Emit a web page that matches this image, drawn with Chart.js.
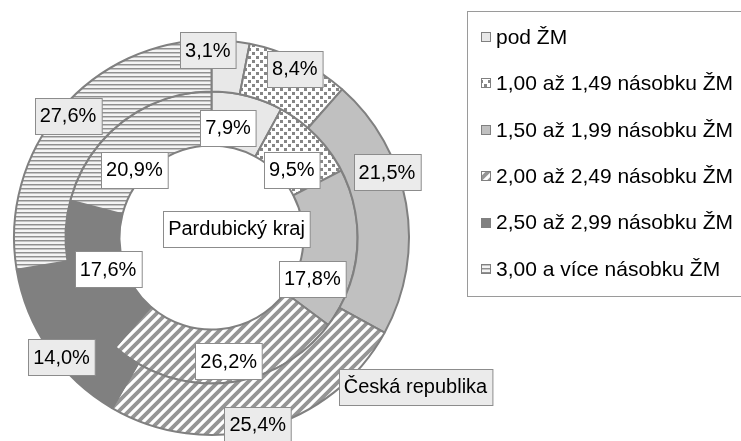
<!DOCTYPE html>
<html>
<head>
<meta charset="utf-8">
<script src="https://cdn.jsdelivr.net/npm/chart.js@4/dist/chart.umd.min.js"></script>
<style>
  html, body { margin: 0; padding: 0; background: #fff; }
  #wrap { position: relative; width: 741px; height: 441px; }
</style>
</head>
<body>
<div id="wrap"><canvas id="myChart" width="741" height="441"></canvas></div>
<script>
var categories = ['pod ŽM', '1,00 až 1,49 násobku ŽM', '1,50 až 1,99 násobku ŽM',
                  '2,00 až 2,49 násobku ŽM', '2,50 až 2,99 násobku ŽM', '3,00 a více násobku ŽM'];
var ringNames = ['Česká republika', 'Pardubický kraj'];
var cr_values = [3.1, 8.4, 21.5, 25.4, 14.0, 27.6];
var pk_values = [7.9, 9.5, 17.8, 26.2, 17.6, 20.9];

var FONT = '"Liberation Sans", Arial, sans-serif';
var GRID = '#808080';

// fill patterns like the old excel ones
function makePattern(kind) {
  var c = document.createElement('canvas');
  var g = c.getContext('2d');
  if (kind == 'dots') {
    c.width = 8; c.height = 8;
    g.fillStyle = '#fff'; g.fillRect(0, 0, 8, 8);
    g.fillStyle = '#868686';
    g.fillRect(0, 0, 3, 3);
    g.fillRect(4, 4, 3, 3);
  } else if (kind == 'hstripes') {
    c.width = 4; c.height = 4;
    g.fillStyle = '#f4f4f4'; g.fillRect(0, 0, 4, 4);
    g.fillStyle = '#909090'; g.fillRect(0, 0, 4, 1);
    g.fillStyle = '#c4c4c4'; g.fillRect(0, 1, 4, 1);
  } else if (kind == 'diag') {
    c.width = 10; c.height = 10;
    g.fillStyle = '#fff'; g.fillRect(0, 0, 10, 10);
    g.strokeStyle = '#959595';
    g.lineWidth = 3.8;
    g.beginPath();
    g.moveTo(-3, 3); g.lineTo(3, -3);
    g.moveTo(0, 10); g.lineTo(10, 0);
    g.moveTo(7, 13); g.lineTo(13, 7);
    g.stroke();
  }
  return g.createPattern(c, 'repeat');
}

var fills = ['#e8e8e8', makePattern('dots'), '#c0c0c0', makePattern('diag'), '#808080', makePattern('hstripes')];

function fmt(v) {
  return v.toFixed(1).replace('.', ',') + '%';
}

function drawBox(ctx, txt, x, y, bg) {
  var w = ctx.measureText(txt).width + 10;
  var h = 36;
  var bx = Math.round(x - w / 2) + 0.5, by = Math.round(y - h / 2) + 0.5;
  ctx.fillStyle = bg;
  ctx.fillRect(bx, by, w, h);
  ctx.strokeStyle = '#8c8c8c';
  ctx.lineWidth = 1;
  ctx.strokeRect(bx, by, w, h);
  ctx.fillStyle = '#000';
  ctx.textAlign = 'center';
  ctx.textBaseline = 'middle';
  ctx.fillText(txt, x, y + 1);
}

var labelPlugin = {
  id: 'ringLabels',
  afterDatasetsDraw: function(chart, args, opts) {
    var ctx = chart.ctx;
    ctx.save();
    ctx.font = '20px ' + FONT;
    chart.data.datasets.forEach(function(ds, di) {
      var meta = chart.getDatasetMeta(di);
      meta.data.forEach(function(arc, i) {
        var p = arc.getProps(['x', 'y', 'startAngle', 'endAngle', 'innerRadius', 'outerRadius'], true);
        var a = (p.startAngle + p.endAngle) / 2;
        var r = p.innerRadius + (p.outerRadius - p.innerRadius) * opts.pos[di];
        var nudge = opts.nudge[di][i];
        drawBox(ctx, fmt(ds.data[i]), p.x + Math.cos(a) * r + nudge[0], p.y + Math.sin(a) * r + nudge[1], opts.bg[di]);
      });
    });
    // ring name boxes
    var arc0 = chart.getDatasetMeta(0).data[0];
    var cx = arc0.x, cy = arc0.y;
    drawBox(ctx, ringNames[1], cx + 25, cy - 9, '#fff');
    drawBox(ctx, ringNames[0], cx + 204, cy + 149, '#ebebeb');
    ctx.restore();
  }
};

var legendPlugin = {
  id: 'boxLegend',
  afterDraw: function(chart) {
    var ctx = chart.ctx;
    ctx.save();
    ctx.strokeStyle = '#9a9a9a';
    ctx.lineWidth = 1;
    ctx.strokeRect(467.5, 11.5, 300, 285);
    ctx.font = '21px ' + FONT;
    ctx.textBaseline = 'middle';
    ctx.textAlign = 'left';
    categories.forEach(function(lab, i) {
      var y = 37 + i * 46.4;
      ctx.fillStyle = fills[i];
      ctx.fillRect(481, Math.round(y - 5), 10, 10);
      ctx.strokeStyle = GRID;
      ctx.strokeRect(481.5, Math.round(y - 5) + 0.5, 9, 9);
      ctx.fillStyle = '#000';
      ctx.fillText(lab, 496, y + 1);
    });
    ctx.restore();
  }
};

var ctx = document.getElementById('myChart');

const cfg = {
  type: 'doughnut',
  data: {
    labels: categories,
    datasets: [
      { label: ringNames[0], data: cr_values, backgroundColor: fills, borderColor: GRID, borderWidth: 2, weight: 51.5 },
      { label: ringNames[1], data: pk_values, backgroundColor: fills, borderColor: GRID, borderWidth: 2, weight: 54 }
    ]
  },
  options: {
    responsive: false,
    animation: false,
    cutout: '46.6%',
    layout: { padding: { left: 13, right: 331, top: 39, bottom: 5 } },
    plugins: {
      legend: { display: false },
      tooltip: { enabled: false },
      ringLabels: {
        pos: [0.82, 0.3],
        bg: ['#ebebeb', '#fff'],
        // label shifts so the boxes sit where the original put them
        nudge: [
          [[-22, 0], [0, 0], [-10, -33], [-4, 6], [5, 13], [0, 0]],
          [[-10, -5], [3, 8], [-7, 32], [6, 16], [0, 0], [-11, 18]]
        ]
      }
    }
  },
  plugins: [labelPlugin, legendPlugin]
};

new Chart(ctx, cfg);
</script>
</body>
</html>
